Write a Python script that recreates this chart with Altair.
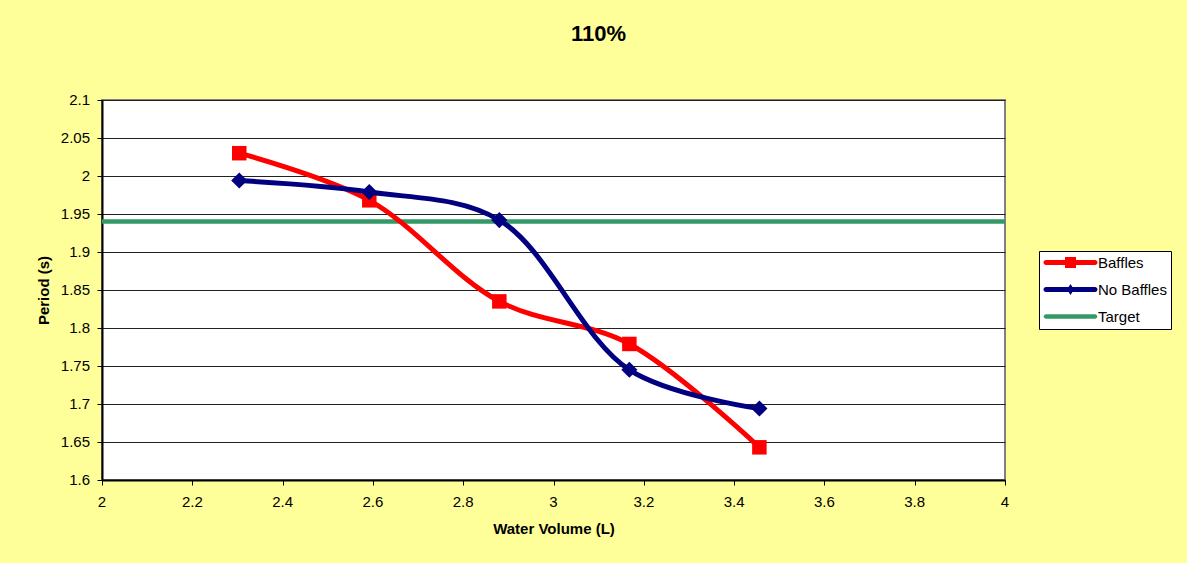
import altair as alt
import pandas as pd

# Measured data: pendulum period against water volume, at 110%
volume = [2.304, 2.592, 2.88, 3.168, 3.456]
baffles = [2.03, 1.968, 1.835, 1.779, 1.643]
no_baffles = [1.994, 1.979, 1.942, 1.745, 1.694]
target_period = 1.94

series_names = ["Baffles", "No Baffles", "Target"]
series_colors = ["#FF0000", "#000080", "#339966"]

x_ticks = [2, 2.2, 2.4, 2.6, 2.8, 3, 3.2, 3.4, 3.6, 3.8, 4]
y_ticks = [1.6, 1.65, 1.7, 1.75, 1.8, 1.85, 1.9, 1.95, 2, 2.05, 2.1]

FONT = "Liberation Sans"
PLOT_W, PLOT_H = 903, 380

rows = []
for v, p in zip(volume, baffles):
    rows.append({"series": "Baffles", "volume": v, "period": p})
for v, p in zip(volume, no_baffles):
    rows.append({"series": "No Baffles", "volume": v, "period": p})
df = pd.DataFrame(rows)
target_df = pd.DataFrame({"period": [target_period]})
legend_df = pd.DataFrame({"series": series_names})
x_tick_df = pd.DataFrame({"volume": x_ticks})
y_tick_df = pd.DataFrame({"period": y_ticks})

x_scale = alt.Scale(domain=[2, 4], nice=False, zero=False)
y_scale = alt.Scale(domain=[1.6, 2.1], nice=False, zero=False)

x_enc = alt.X(
    "volume:Q", scale=x_scale,
    axis=alt.Axis(
        values=x_ticks, grid=False, labels=False,
        domainColor="black", domainWidth=2, tickColor="black", tickSize=5,
        title="Water Volume (L)", titleFontSize=15,
        titleFontWeight="bold", titleColor="black", titlePadding=36,
    ),
)
y_enc = alt.Y(
    "period:Q", scale=y_scale,
    axis=alt.Axis(
        values=y_ticks, grid=True, gridColor="#222222", gridWidth=1, labels=False,
        domainColor="black", domainWidth=2, tickColor="black", tickSize=5,
        title="Period (s)", titleFontSize=15,
        titleFontWeight="bold", titleColor="black", titlePadding=45,
    ),
)

# Tick labels, placed through the same scales (and axes) as the data
x_labels = alt.Chart(x_tick_df).mark_text(
    fontSize=15, color="black", align="center", baseline="alphabetic"
).encode(
    x=x_enc,
    y=alt.value(PLOT_H + 27),
    text=alt.Text("volume:Q", format=".1~f"),
)
y_labels = alt.Chart(y_tick_df).mark_text(
    fontSize=15, color="black", align="right", baseline="middle"
).encode(
    y=y_enc,
    x=alt.value(-12),
    text=alt.Text("period:Q", format=".2~f"),
)

# Target period as a horizontal rule across the plot
target = alt.Chart(target_df).mark_rule(color="#339966", strokeWidth=4.5).encode(y=y_enc)

def series_layers(name, color, shape, size):
    base = alt.Chart(df).transform_filter(alt.datum.series == name)
    line = base.mark_line(
        interpolate="catmull-rom", color=color, strokeWidth=5,
        strokeCap="round", strokeJoin="round",
    ).encode(x=x_enc, y=y_enc)
    pts = base.mark_point(
        shape=shape, filled=True, size=size, color=color, opacity=1
    ).encode(x=x_enc, y=y_enc)
    return [line, pts]

# Legend symbols: a line with the series marker in its middle
legend_paths = [
    "M-4.9,-0.5L4.9,-0.5A0.5,0.5 0 0 1 4.9,0.5L-4.9,0.5A0.5,0.5 0 0 1 -4.9,-0.5Z"
    "M-1.1,-1.1L1.1,-1.1L1.1,1.1L-1.1,1.1Z",
    "M-4.9,-0.5L4.9,-0.5A0.5,0.5 0 0 1 4.9,0.5L-4.9,0.5A0.5,0.5 0 0 1 -4.9,-0.5Z"
    "M0,-1.1L0.7,0L0,1.1L-0.7,0Z",
    "M-4.9,-0.45L4.9,-0.45A0.45,0.45 0 0 1 4.9,0.45L-4.9,0.45A0.45,0.45 0 0 1 -4.9,-0.45Z",
]
legend_opts = alt.Legend(
    title=None, orient="none", legendX=937, legendY=151,
    fillColor="white", strokeColor="black", padding=4,
    symbolSize=100, symbolStrokeWidth=0, symbolOpacity=1,
    symbolOffset=20, labelOffset=20, rowPadding=11,
    labelFontSize=15, labelColor="black",
)
# Hidden carrier layer: only its legend is seen
legend_layer = alt.Chart(legend_df).mark_point(filled=True, opacity=0).encode(
    x=alt.value(450),
    y=alt.value(190),
    color=alt.Color("series:N", scale=alt.Scale(domain=series_names, range=series_colors),
                    legend=legend_opts),
    shape=alt.Shape("series:N", scale=alt.Scale(domain=series_names, range=legend_paths),
                    legend=legend_opts),
)

layers = [target]
layers += series_layers("Baffles", "#FF0000", "square", 210)
layers += series_layers("No Baffles", "#000080", "diamond", 260)
layers += [x_labels, y_labels, legend_layer]

chart = alt.layer(*layers).properties(
    width=PLOT_W,
    height=PLOT_H,
    title=alt.Title("110%", fontSize=22, fontWeight="bold", color="black",
                    anchor="middle", dx=45, offset=47),
    background="#FFFF99",
    padding={"left": 102, "top": 100, "right": 182, "bottom": 83},
    autosize=alt.AutoSizeParams(type="none"),
).configure(
    font=FONT
).configure_view(
    fill="white", stroke="#808080", strokeWidth=2
)

chart.save("out.html", embed_options={"renderer": "svg", "actions": False})
